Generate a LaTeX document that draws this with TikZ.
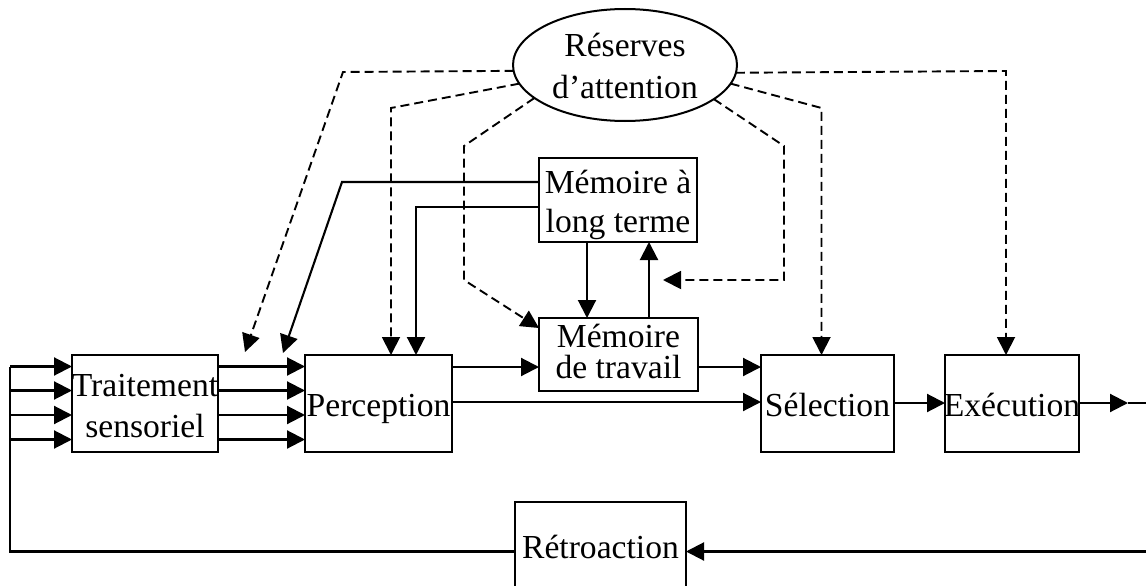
\documentclass[tikz,border=0pt]{standalone}
\usepackage{fontspec}
\setmainfont{Liberation Serif}
\usetikzlibrary{arrows.meta,shapes.geometric}

\tikzset{
  box/.style={draw, line width=2pt, inner sep=0pt, outer sep=0pt, fill=white},
  lbl/.style={inner sep=0pt, outer sep=0pt, anchor=base, align=center,
              font=\fontsize{33.6}{41}\selectfont},
  flow/.style={line width=2.1pt, -{Triangle[length=18pt,width=18pt]}},
  link/.style={line width=2.1pt},
  attn/.style={line width=1.9pt, dash pattern=on 9pt off 5pt,
               -{Triangle[length=18pt,width=18pt]}},
}

\begin{document}
\begin{tikzpicture}[x=1pt,y=-1pt]
\path[use as bounding box, clip] (0,0) rectangle (1146,586);

% boxes
\node[box, minimum width=146pt, minimum height=97pt] (trait) at (145,403.5) {};
\node[box, minimum width=147pt, minimum height=97pt] (perc)  at (378.5,403.5) {};
\node[box, minimum width=158pt, minimum height=84pt] (ltm)   at (618,200) {};
\node[box, minimum width=159pt, minimum height=73pt] (mdt)   at (618.5,354.5) {};
\node[box, minimum width=133pt, minimum height=97pt] (sel)   at (827.5,403.5) {};
\node[box, minimum width=134pt, minimum height=97pt] (exe)   at (1012,403.5) {};
\node[box, minimum width=171pt, minimum height=92pt] (retro) at (600.5,548) {};
\node[box, ellipse, minimum width=224pt, minimum height=112pt] (res) at (625,65) {};

% box texts
\node[lbl] (res-t)   at (625,98)    {Réserves\\d’attention};
\node[lbl] (trait-t) at (145,437)   {Traitement\\sensoriel};
\node[lbl] (perc-t)  at (378.5,416.5) {Perception};
\node[lbl, font=\fontsize{33.6}{39}\selectfont] (ltm-t) at (618,232) {Mémoire à\\long terme};
\node[lbl, font=\fontsize{33.6}{31}\selectfont] (mdt-t) at (618.5,378) {Mémoire\\de travail};
\node[lbl] (sel-t)   at (827.5,416.5) {Sélection};
\node[lbl] (exe-t)   at (1012,416.5) {Exécution};
\node[lbl] (retro-t) at (600.5,558) {Rétroaction};

% free ends and bus points
\coordinate (sensA) at (245,352);
\coordinate (sensB) at (283,353);
\coordinate (loopA) at (663,280);
\coordinate (out)   at (1128,403);
\coordinate (busR)  at (1150,403);
\coordinate (busRB) at (1150,551.5);
\coordinate (busLB) at (10,551.5);
\coordinate (busLT) at (10,366.5);

% feedback loop into sensory processing
\draw[link] (retro.west |- busLB) -- (busLB) -- (busLT);
\foreach \y in {366.5,390.5,415,439.5}{
  \draw[flow] (10,\y) -- (trait.west |- 0,\y);
  \draw[flow] (trait.east |- 0,\y) -- (perc.west |- 0,\y);
}

% main chain
\draw[flow] (perc.east |- 0,367) -- (mdt.west |- 0,367);
\draw[flow] (mdt.east |- 0,367) -- (sel.west |- 0,367);
\draw[flow] (perc.east |- 0,402) -- (sel.west |- 0,402);
\draw[flow] (sel.east |- 0,403) -- (exe.west |- 0,403);
\draw[flow] (exe.east |- out) -- (out);
\draw[flow] (out) -- (busR) -- (busRB) -- (retro.east |- busRB);

% long-term memory links
\draw[flow] (ltm.west |- 0,182) -- (342,182) -- (sensB);
\draw[flow] (ltm.west |- 0,207) -- (416,207) -- (416,0 |- perc.north);
\draw[flow] (587,0 |- ltm.south) -- (587,0 |- mdt.north);
\draw[flow] (649,0 |- mdt.north) -- (649,0 |- ltm.south);

% attention resources
\draw[attn] (res.183.6) -- (343,72) -- (sensA);
\draw[attn] (res.190.3) -- (391,108) -- (391,0 |- perc.north);
\draw[attn] (res.200.8) -- (464,146) -- (464,280) -- ([yshift=-10pt]mdt.north west);
\draw[attn] (res.339.9) -- (784,146) -- (784,280) -- (loopA);
\draw[attn] (res.350.7) -- (821.5,108) -- (821.5,0 |- sel.north);
\draw[attn] (res.356.9) -- (1006,71) -- (1006,0 |- exe.north);
\end{tikzpicture}
\end{document}
